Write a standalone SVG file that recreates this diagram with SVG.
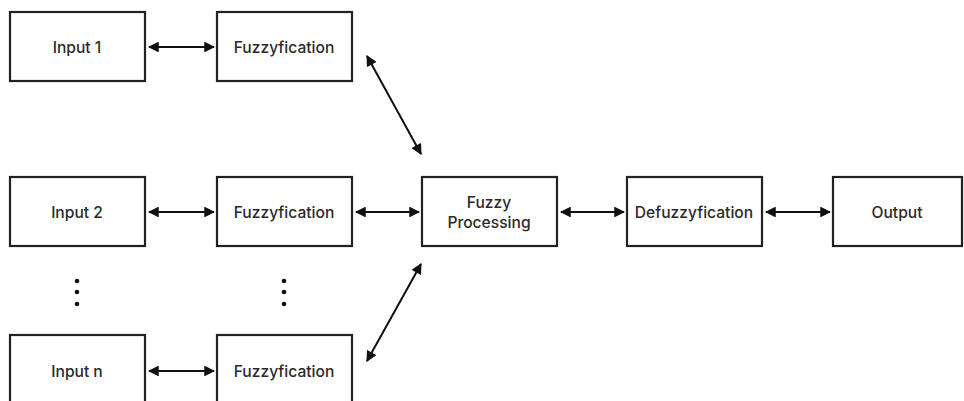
<svg xmlns="http://www.w3.org/2000/svg" width="964" height="401" viewBox="0 0 964 401">
<defs>
<marker id="ah" viewBox="0 0 10 10" refX="9" refY="5" markerWidth="5.8" markerHeight="5.4" markerUnits="strokeWidth" orient="auto-start-reverse">
<path d="M0,0 L10,5 L0,10 z" fill="#111"/>
</marker>
<style>
.box{fill:#fff;stroke:#222;stroke-width:2.2}
.lbl{font-family:Inter,"Liberation Sans",sans-serif;font-size:15.6px;font-weight:500;fill:#2a2a2a;text-anchor:middle;dominant-baseline:central}
.con{stroke:#111;stroke-width:2;fill:none;marker-start:url(#ah);marker-end:url(#ah)}
.dot{fill:#111}
</style>
</defs>
<rect width="964" height="401" fill="#fff"/>
<g id="input1"><rect class="box" x="10" y="12" width="135" height="69"/><text class="lbl" x="77" y="47">Input 1</text></g>
<g id="fuzz1"><rect class="box" x="217" y="12" width="135" height="69"/><text class="lbl" x="284" y="47">Fuzzyfication</text></g>
<g id="input2"><rect class="box" x="10" y="177" width="135" height="69"/><text class="lbl" x="77" y="212">Input 2</text></g>
<g id="fuzz2"><rect class="box" x="217" y="177" width="135" height="69"/><text class="lbl" x="284" y="212">Fuzzyfication</text></g>
<g id="fuzzyproc"><rect class="box" x="422" y="177" width="135" height="69"/><text class="lbl" x="489" y="202">Fuzzy</text><text class="lbl" x="489" y="222">Processing</text></g>
<g id="defuzz"><rect class="box" x="627" y="177" width="135" height="69"/><text class="lbl" x="694" y="212">Defuzzyfication</text></g>
<g id="output"><rect class="box" x="833" y="177" width="129" height="69"/><text class="lbl" x="897" y="212">Output</text></g>
<g id="inputn"><rect class="box" x="10" y="335" width="135" height="69"/><text class="lbl" x="77" y="371">Input n</text></g>
<g id="fuzzn"><rect class="box" x="217" y="335" width="135" height="69"/><text class="lbl" x="284" y="371">Fuzzyfication</text></g>
<g id="dots1"><circle class="dot" cx="77" cy="281" r="2.3"/><circle class="dot" cx="77" cy="292" r="2.3"/><circle class="dot" cx="77" cy="304" r="2.3"/></g>
<g id="dots2"><circle class="dot" cx="284" cy="281" r="2.3"/><circle class="dot" cx="284" cy="292" r="2.3"/><circle class="dot" cx="284" cy="304" r="2.3"/></g>
<g id="connectors">
<line class="con" x1="149" y1="47" x2="214" y2="47"/>
<line class="con" x1="367" y1="56" x2="421" y2="154"/>
<line class="con" x1="149" y1="212" x2="214" y2="212"/>
<line class="con" x1="356" y1="212" x2="419" y2="212"/>
<line class="con" x1="561" y1="212" x2="624" y2="212"/>
<line class="con" x1="766" y1="212" x2="830" y2="212"/>
<line class="con" x1="421" y1="264" x2="367" y2="361"/>
<line class="con" x1="149" y1="371" x2="214" y2="371"/>
</g>
</svg>
